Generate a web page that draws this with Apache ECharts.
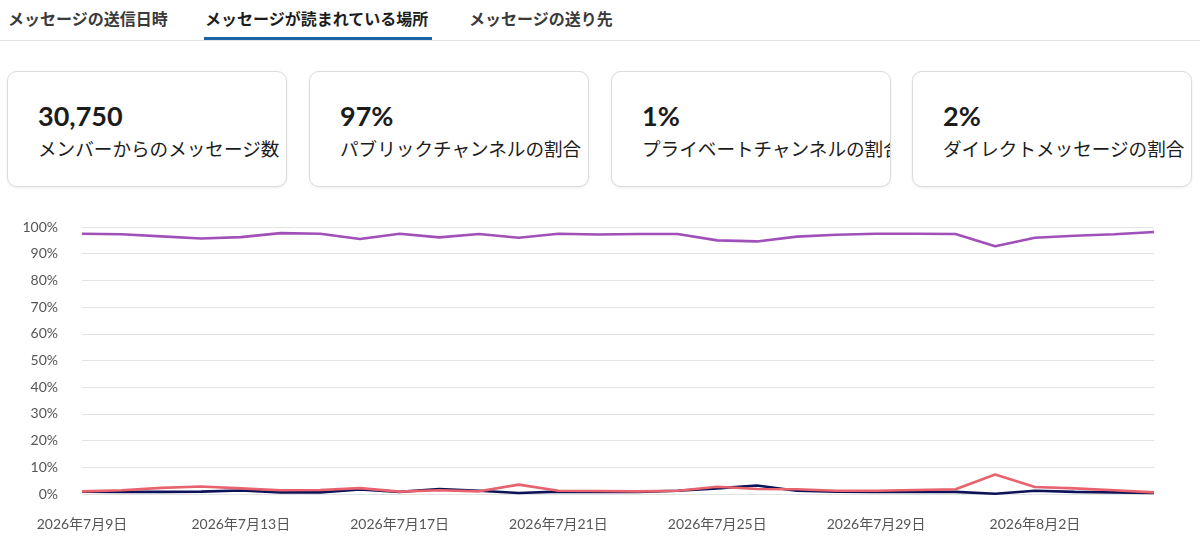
<!DOCTYPE html>
<html>
<head>
<meta charset="utf-8">
<script src="https://cdn.jsdelivr.net/npm/echarts@6/dist/echarts.min.js"></script>
<style>
  html, body { margin: 0; padding: 0; background: #fff; width: 1200px; height: 542px; overflow: hidden; }
  body { font-family: Lato, "Noto Sans CJK JP", sans-serif; color: #1d1c1d; position: relative; }
  .tab { position: absolute; top: 7px; font-size: 16px; font-weight: 700; line-height: 22px; color: #3a3a3a; white-space: nowrap; font-family: "Noto Sans CJK JP", sans-serif; }
  .tab.active { color: #1d1c1d; }
  .underline { position: absolute; top: 37px; left: 204px; width: 228px; height: 3px; background: #1b64a6; }
  .divider { position: absolute; top: 40px; left: 0; width: 1200px; height: 1px; background: #e2e2e2; }
  .card { position: absolute; top: 71px; width: 278px; height: 114px; border: 1px solid #dcdcdc; border-radius: 10px; box-shadow: 0 1px 3px rgba(0,0,0,0.08); overflow: hidden; background: #fff; }
  .num { position: absolute; left: 30px; top: 27px; font-family: Lato, sans-serif; font-weight: 700; font-size: 27px; line-height: 34px; color: #1d1c1d; }
  .lbl { position: absolute; left: 30px; top: 63px; font-family: "Noto Sans CJK JP", sans-serif; font-size: 18.6px; line-height: 26px; color: #1d1c1d; white-space: nowrap; }
  #chart { position: absolute; left: 0; top: 200px; width: 1200px; height: 342px; }
</style>
</head>
<body>
<div class="tab" style="left:8px">メッセージの送信日時</div>
<div class="tab active" style="left:205px">メッセージが読まれている場所</div>
<div class="tab" style="left:469px">メッセージの送り先</div>
<div class="underline"></div>
<div class="divider"></div>

<div class="card" style="left:7px"><div class="num">30,750</div><div class="lbl">メンバーからのメッセージ数</div></div>
<div class="card" style="left:309px"><div class="num">97%</div><div class="lbl">パブリックチャンネルの割合</div></div>
<div class="card" style="left:611px"><div class="num">1%</div><div class="lbl">プライベートチャンネルの割合</div></div>
<div class="card" style="left:912px"><div class="num">2%</div><div class="lbl">ダイレクトメッセージの割合</div></div>

<div id="chart"></div>
<script>
const dates = [
  '2026年7月9日','2026年7月10日','2026年7月11日','2026年7月12日','2026年7月13日','2026年7月14日','2026年7月15日',
  '2026年7月16日','2026年7月17日','2026年7月18日','2026年7月19日','2026年7月20日','2026年7月21日','2026年7月22日',
  '2026年7月23日','2026年7月24日','2026年7月25日','2026年7月26日','2026年7月27日','2026年7月28日','2026年7月29日',
  '2026年7月30日','2026年7月31日','2026年8月1日','2026年8月2日','2026年8月3日','2026年8月4日','2026年8月5日'
];
const publicShare = [97.5, 97.3, 96.5, 95.7, 96.2, 97.7, 97.5, 95.5, 97.5, 96.1, 97.4, 96.0, 97.5, 97.2,
                     97.4, 97.4, 95.0, 94.6, 96.4, 97.1, 97.5, 97.5, 97.4, 92.8, 96.0, 96.7, 97.3, 98.1];
const privateShare = [0.9, 0.8, 0.8, 0.9, 1.3, 0.6, 0.6, 1.7, 0.8, 1.9, 1.2, 0.4, 0.9, 0.8,
                      0.8, 1.2, 2.1, 3.2, 1.2, 0.9, 0.8, 0.8, 0.8, 0.1, 1.2, 0.8, 0.6, 0.4];
const dmShare = [1.0, 1.4, 2.3, 2.8, 2.1, 1.4, 1.5, 2.2, 0.9, 1.4, 1.0, 3.5, 1.2, 1.1,
                 1.0, 1.2, 2.7, 1.9, 1.8, 1.2, 1.2, 1.5, 1.8, 7.3, 2.6, 2.1, 1.4, 0.6];

const chart = echarts.init(document.getElementById('chart'), null, { renderer: 'canvas' });
const lineStyle = (c) => ({ color: c, width: 2.6 });
chart.setOption({
  animation: false,
  grid: { left: 82, right: 46, top: 27, bottom: 48 },
  xAxis: {
    type: 'category',
    data: dates,
    boundaryGap: false,
    axisLine: { show: false },
    axisTick: { show: false },
    axisLabel: { interval: 3, margin: 23, color: '#555', fontSize: 14, fontFamily: 'Lato, "Noto Sans CJK JP", sans-serif' }
  },
  yAxis: {
    type: 'value',
    min: 0, max: 100, interval: 10,
    axisLine: { show: false },
    axisTick: { show: false },
    axisLabel: { formatter: '{value}%', color: '#555', fontSize: 14, margin: 24, fontFamily: 'Lato, sans-serif' },
    splitLine: { lineStyle: { color: '#e3e3e3', width: 1 } }
  },
  series: [
    { name: 'パブリックチャンネル', type: 'line', data: publicShare, showSymbol: false, symbol: 'none', lineStyle: lineStyle('#a050b8'), itemStyle: { color: '#a050b8' } },
    { name: 'プライベートチャンネル', type: 'line', data: privateShare, showSymbol: false, symbol: 'none', lineStyle: lineStyle('#0d1358'), itemStyle: { color: '#0d1358' } },
    { name: 'ダイレクトメッセージ', type: 'line', data: dmShare, showSymbol: false, symbol: 'none', lineStyle: lineStyle('#e8636d'), itemStyle: { color: '#e8636d' } }
  ]
});
</script>
</body>
</html>
